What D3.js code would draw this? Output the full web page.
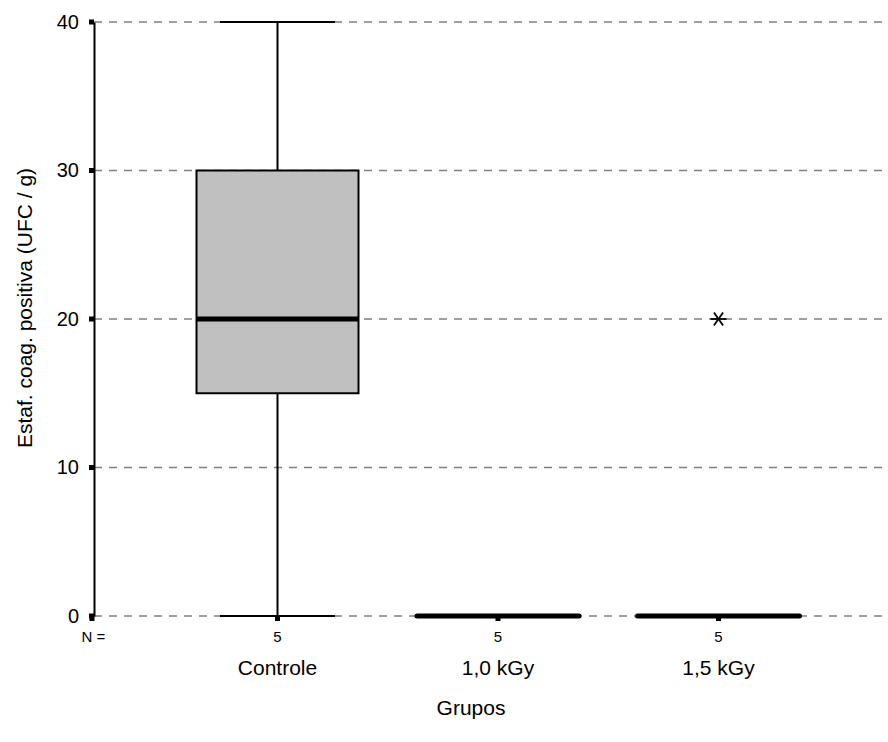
<!DOCTYPE html>
<html>
<head>
<meta charset="utf-8">
<script src="https://cdn.jsdelivr.net/npm/d3@7"></script>
<style>
  body { margin: 0; background: #fff; }
  text { font-family: "Liberation Sans", Arial, sans-serif; fill: #000; }
</style>
</head>
<body>
<div id="chart"></div>
<script>
// data
var groups = ["Controle", "1,0 kGy", "1,5 kGy"];
var counts = [5, 5, 5];
var mins = [0, 0, 0];
var q1s = [15, 0, 0];
var medians = [20, 0, 0];
var q3s = [30, 0, 0];
var maxs = [40, 0, 0];
var extremes = [[], [], [20]];
var yTicks = [0, 10, 20, 30, 40];

var svgWidth = 888;
var svgHeight = 742;

var svg = d3.select("#chart")
  .append("svg")
  .attr("width", svgWidth)
  .attr("height", svgHeight);

var xScale = d3.scalePoint()
  .domain(groups)
  .range([277.5, 718.5]);

var yScale = d3.scaleLinear()
  .domain([0, 40])
  .range([616, 22]);

var axisX = 94;
var boxW = 162;
var capW = 115;

// dashed grid lines
svg.append("g")
  .selectAll("line")
  .data(yTicks)
  .enter()
  .append("line")
  .attr("x1", axisX)
  .attr("x2", svgWidth)
  .attr("y1", d => yScale(d))
  .attr("y2", d => yScale(d))
  .attr("stroke", "#808080")
  .attr("stroke-width", 1.3)
  .attr("stroke-dasharray", "8,7");

// y axis
var leftAxis = d3.axisLeft(yScale)
  .tickValues(yTicks)
  .tickSize(0)
  .tickPadding(15);

var yAxis = svg.append("g")
  .attr("transform", `translate(${axisX}, 0)`)
  .call(leftAxis);

yAxis.select(".domain").attr("stroke", "#000").attr("stroke-width", 2);
yAxis.selectAll("text")
  .style("font-size", "20px")
  .style("font-family", "Liberation Sans, Arial, sans-serif");

// square tick marks on y axis
svg.append("g")
  .selectAll("rect")
  .data(yTicks)
  .enter()
  .append("rect")
  .attr("x", axisX - 5)
  .attr("y", d => yScale(d) - 2.5)
  .attr("width", 5)
  .attr("height", 5)
  .attr("fill", "#000");

// boxes
var boxes = svg.append("g")
  .selectAll("g")
  .data(groups)
  .enter()
  .append("g");

boxes.filter((d, i) => maxs[i] > mins[i])
  .each(function(d) {
    var i = groups.indexOf(d);
    var g = d3.select(this);
    var cx = xScale(d);
    // whiskers
    g.append("line")
      .attr("x1", cx).attr("x2", cx)
      .attr("y1", yScale(maxs[i])).attr("y2", yScale(mins[i]))
      .attr("stroke", "#000").attr("stroke-width", 2);
    g.selectAll(".cap")
      .data([maxs[i], mins[i]])
      .enter()
      .append("line")
      .attr("x1", cx - capW / 2).attr("x2", cx + capW / 2)
      .attr("y1", v => yScale(v)).attr("y2", v => yScale(v))
      .attr("stroke", "#000").attr("stroke-width", 2);
    g.append("rect")
      .attr("x", cx - boxW / 2)
      .attr("y", yScale(q3s[i]))
      .attr("width", boxW)
      .attr("height", yScale(q1s[i]) - yScale(q3s[i]))
      .attr("fill", "#c0c0c0")
      .attr("stroke", "#000")
      .attr("stroke-width", 2);
    g.append("line")
      .attr("x1", cx - boxW / 2).attr("x2", cx + boxW / 2)
      .attr("y1", yScale(medians[i])).attr("y2", yScale(medians[i]))
      .attr("stroke", "#000").attr("stroke-width", 5);
  });

// collapsed groups: a thick line at the median
boxes.filter((d, i) => maxs[i] === mins[i])
  .append("line")
  .attr("x1", d => xScale(d) - boxW / 2)
  .attr("x2", d => xScale(d) + boxW / 2)
  .attr("y1", d => yScale(medians[groups.indexOf(d)]))
  .attr("y2", d => yScale(medians[groups.indexOf(d)]))
  .attr("stroke", "#000")
  .attr("stroke-width", 5)
  .attr("stroke-linecap", "round");

// extremes drawn as asterisks
var starR = 8;
boxes.each(function(d) {
  var i = groups.indexOf(d);
  var g = d3.select(this);
  extremes[i].forEach(function(v) {
    var cx = xScale(d), cy = yScale(v);
    [0, 55, -55].forEach(function(a) {
      var r = a * Math.PI / 180;
      g.append("line")
        .attr("x1", cx - starR * Math.cos(r)).attr("x2", cx + starR * Math.cos(r))
        .attr("y1", cy - starR * Math.sin(r)).attr("y2", cy + starR * Math.sin(r))
        .attr("stroke", "#000").attr("stroke-width", 1.8);
    });
  });
});

// bottom tick squares
svg.append("g")
  .selectAll("rect")
  .data([axisX - 2].concat(groups.map(d => xScale(d))))
  .enter()
  .append("rect")
  .attr("x", d => d - 2.5)
  .attr("y", 616)
  .attr("width", 5)
  .attr("height", 5)
  .attr("fill", "#000");

// N = and counts
svg.append("text")
  .attr("x", 93.5)
  .attr("y", 642)
  .attr("text-anchor", "middle")
  .style("font-size", "15px")
  .text("N =");

svg.append("g")
  .selectAll("text")
  .data(groups)
  .enter()
  .append("text")
  .attr("x", d => xScale(d))
  .attr("y", 642)
  .attr("text-anchor", "middle")
  .style("font-size", "15px")
  .text((d, i) => counts[i]);

// category labels
svg.append("g")
  .selectAll("text")
  .data(groups)
  .enter()
  .append("text")
  .attr("x", d => xScale(d))
  .attr("y", 675)
  .attr("text-anchor", "middle")
  .style("font-size", "21px")
  .text(d => d);

// axis titles
svg.append("text")
  .attr("x", 471)
  .attr("y", 715)
  .attr("text-anchor", "middle")
  .style("font-size", "21px")
  .text("Grupos");

svg.append("text")
  .attr("transform", "rotate(-90)")
  .attr("x", -308)
  .attr("y", 32)
  .attr("text-anchor", "middle")
  .style("font-size", "21px")
  .text("Estaf. coag. positiva (UFC / g)");
</script>
</body>
</html>
